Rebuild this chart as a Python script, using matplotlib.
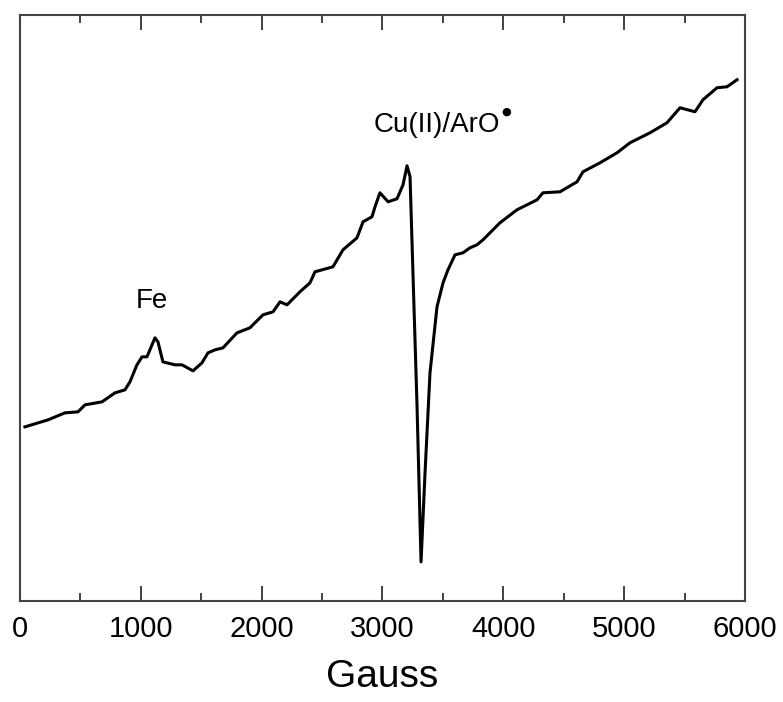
import matplotlib.pyplot as plt
from matplotlib.ticker import MultipleLocator

plt.rcParams['font.family'] = ['Liberation Sans', 'DejaVu Sans']

# EPR spectrum (field in Gauss, signal in arbitrary units)
gauss = [41, 232, 372, 480, 538, 679, 786, 869, 910, 968, 1010, 1051, 1117, 1142,
         1183, 1283, 1341, 1432, 1506, 1556, 1614, 1680, 1796, 1903, 2011, 2094,
         2152, 2210, 2317, 2400, 2441, 2590, 2673, 2789, 2839, 2913, 2938, 2979,
         3046, 3120, 3170, 3203, 3228, 3252, 3286, 3319, 3352, 3393, 3451, 3501,
         3542, 3600, 3666, 3724, 3782, 3832, 3972, 4113, 4279, 4328, 4469, 4610,
         4659, 4800, 4941, 5048, 5214, 5354, 5462, 5586, 5652, 5768, 5851, 5934]
signal = [174, 181, 188, 189, 196, 199, 208, 211, 219, 236, 244, 244, 263, 259,
          239, 236, 236, 230, 238, 248, 251, 253, 268, 273, 286, 289, 299, 296,
          309, 318, 329, 334, 351, 363, 379, 384, 394, 408, 399, 402, 416, 435,
          424, 328, 194, 39, 128, 228, 294, 318, 331, 346, 348, 353, 356, 361,
          378, 391, 401, 408, 409, 419, 429, 438, 448, 458, 468, 478, 493, 489,
          501, 513, 514, 521]

fig = plt.figure(figsize=(7.83, 7.02), dpi=100)
ax = fig.add_axes([0.0255, 0.144, 0.926, 0.835])
ax.plot(gauss, signal, color='black', lw=2.2)

ax.set_xlim(0, 6000)
ax.set_ylim(0, 586)
ax.xaxis.set_major_locator(MultipleLocator(1000))
ax.xaxis.set_minor_locator(MultipleLocator(500))
ax.tick_params(axis='x', which='both', direction='in', top=True, pad=10,
               labelsize=21, colors='#333333', labelcolor='black')
ax.tick_params(axis='x', which='major', length=11, width=1.3)
ax.tick_params(axis='x', which='minor', length=6, width=1.3)
ax.set_yticks([])
for s in ax.spines.values():
    s.set_color('#444444')
    s.set_linewidth(1.5)

ax.set_xlabel('Gauss', fontsize=28, labelpad=12)
ax.text(1092, 300, 'Fe', fontsize=20, ha='center', va='center')
cu = ax.text(2930, 476, 'Cu(II)/ArO', fontsize=20, ha='left', va='center')
ax.annotate('\u25cf', xy=(1, 1.02), xycoords=cu, fontsize=8, family='DejaVu Sans',
            ha='left', va='center', xytext=(0.5, 0), textcoords='offset points')

fig.savefig('out.png', dpi=100)
